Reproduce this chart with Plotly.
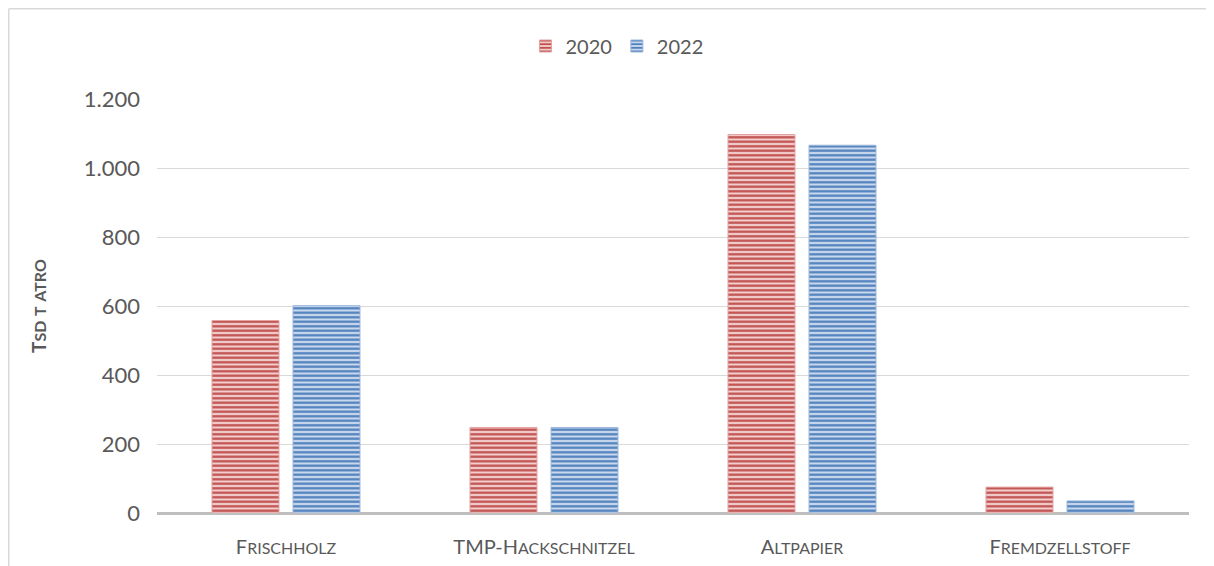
import plotly.graph_objects as go

categories = ["Frischholz", "TMP-Hackschnitzel", "Altpapier", "Fremdzellstoff"]
values_2020 = [558, 248, 1097, 75]
values_2022 = [601, 248, 1066, 35]
series_names = ["2020", "2022"]
y_ticks = [0, 200, 400, 600, 800, 1000, 1200]

FONT = "Lato"
TXT = "#595959"


def small_caps(text, big, small):
    """Emulate small caps: capitals at `big` px, lowercase letters uppercased at `small` px."""
    out = []
    buf = ""
    mode = None
    for ch in text:
        m = "s" if ch.islower() else "b"
        if m != mode and buf:
            out.append((mode, buf))
            buf = ""
        mode = m
        buf += ch
    if buf:
        out.append((mode, buf))
    html = ""
    for m, s in out:
        size = big if m == "b" else small
        html += f'<span style="font-size:{size}px">{s.upper()}</span>'
    return html


cat_labels = [small_caps(c, 20, 16) for c in categories]

L, T = 149, 91
PW, PH = 1032, 414
W, H = 1214, 566

fig = go.Figure()
fig.add_trace(go.Bar(
    name=series_names[0], x=categories, y=values_2020,
    marker=dict(color="#F2CDCC", line=dict(color="#E3A3A1", width=1),
                pattern=dict(shape="-", fgcolor="#C0504D", bgcolor="#F2CDCC",
                             size=4.5, solidity=0.5, fillmode="replace")),
))
fig.add_trace(go.Bar(
    name=series_names[1], x=categories, y=values_2022,
    marker=dict(color="#C9D8EC", line=dict(color="#9CB7DC", width=1),
                pattern=dict(shape="-", fgcolor="#4F81BD", bgcolor="#C9D8EC",
                             size=4.5, solidity=0.5, fillmode="replace")),
))

# chart border (only left and top edges fall inside the window)
x_left = (0.75 - L) / PW
y_top = (T + PH - 0.75) / PH
fig.add_shape(type="line", xref="paper", yref="paper", x0=x_left, x1=x_left, y0=-0.3, y1=y_top,
              line=dict(color="#D9D9D9", width=1.5))
fig.add_shape(type="line", xref="paper", yref="paper", x0=x_left, x1=1.2, y0=y_top, y1=y_top,
              line=dict(color="#D9D9D9", width=1.5))

fig.update_layout(
    width=W, height=H,
    margin=dict(l=L, r=W - L - PW, t=T, b=H - T - PH, autoexpand=False),
    paper_bgcolor="white", plot_bgcolor="white",
    separators=",.",
    barmode="group", bargap=0.372, bargroupgap=0.173,
    font=dict(family=FONT, color=TXT, size=20),
    legend=dict(orientation="h", x=0.4457, xanchor="center", y=1.128, yanchor="middle",
                font=dict(family=FONT, size=20, color=TXT), itemwidth=30,
                traceorder="normal"),
    showlegend=True,
    xaxis=dict(showgrid=False, showline=False, zeroline=False, ticks="",
               tickmode="array", tickvals=categories, ticktext=cat_labels,
               tickfont=dict(family=FONT, size=20, color=TXT),
               ticklabelstandoff=20),
    yaxis=dict(range=[0, 1200], tickvals=y_ticks, tickformat=",d",
               showgrid=True, gridcolor="#D9D9D9", gridwidth=1,
               zeroline=True, zerolinecolor="#BFBFBF", zerolinewidth=2.5,
               showline=False, ticks="",
               tickfont=dict(family=FONT, size=22, color=TXT),
               ticklabelstandoff=16,
               title=dict(text=small_caps("Tsd t atro", 19, 16), standoff=32,
                          font=dict(family=FONT, size=19, color=TXT, weight="bold"))),
)

fig.write_html("out.html")
